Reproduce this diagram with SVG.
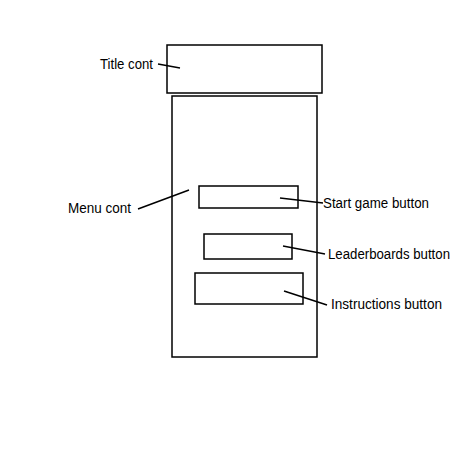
<svg xmlns="http://www.w3.org/2000/svg" width="466" height="466" viewBox="0 0 466 466">
<style>
.box{fill:#fff;stroke:#000;stroke-width:1.5}
.lbl{font-family:"Liberation Sans","Open Sans",sans-serif;font-size:14px;fill:#000}
.ln{stroke:#000;stroke-width:1.5;fill:none}
</style>
<rect width="466" height="466" fill="#fff"/>
<g id="title-cont"><rect class="box" x="167" y="45" width="155" height="48"/></g>
<g id="menu-cont"><rect class="box" x="172" y="96" width="145" height="261"/></g>
<g id="start-game-button"><rect class="box" x="199" y="186" width="99" height="22"/></g>
<g id="leaderboards-button"><rect class="box" x="204" y="234" width="88" height="25"/></g>
<g id="instructions-button"><rect class="box" x="195" y="273" width="108" height="31"/></g>
<g id="connectors">
<line class="ln" x1="158" y1="64" x2="180" y2="68"/>
<line class="ln" x1="138" y1="209" x2="189" y2="190"/>
<line class="ln" x1="280" y1="198" x2="323" y2="203"/>
<line class="ln" x1="283" y1="246" x2="325" y2="254"/>
<line class="ln" x1="284" y1="291" x2="327" y2="305"/>
</g>
<g id="labels">
<text class="lbl" x="100" y="69" textLength="53" lengthAdjust="spacingAndGlyphs">Title cont</text>
<text class="lbl" x="68" y="213" textLength="63" lengthAdjust="spacingAndGlyphs">Menu cont</text>
<text class="lbl" x="323" y="208" textLength="106" lengthAdjust="spacingAndGlyphs">Start game button</text>
<text class="lbl" x="328" y="259" textLength="122" lengthAdjust="spacingAndGlyphs">Leaderboards button</text>
<text class="lbl" x="331" y="309" textLength="111" lengthAdjust="spacingAndGlyphs">Instructions button</text>
</g>
</svg>
